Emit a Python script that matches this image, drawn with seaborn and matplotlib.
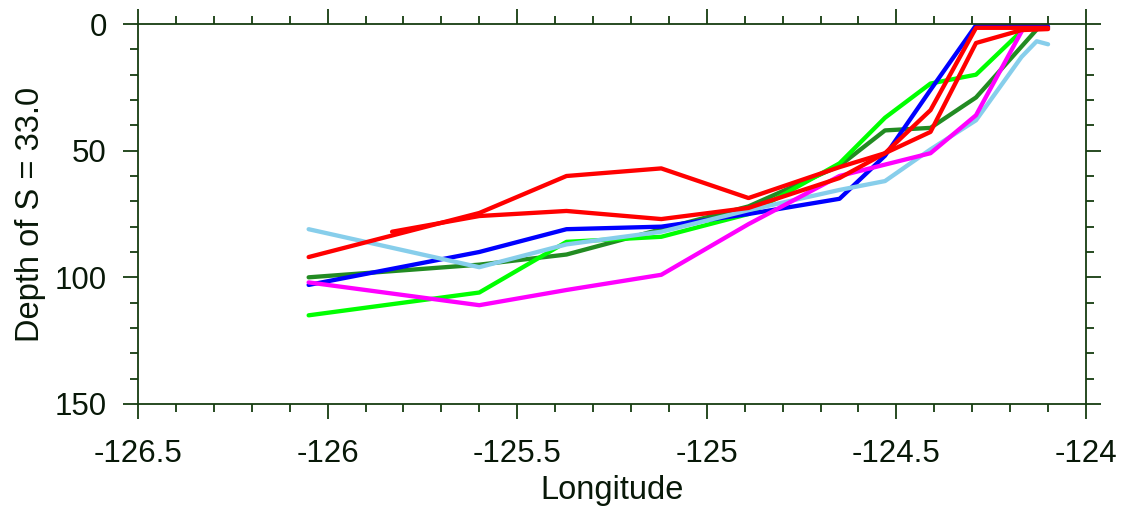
import numpy as np
import pandas as pd
import matplotlib
matplotlib.use("Agg")
import matplotlib.pyplot as plt
from matplotlib.ticker import MultipleLocator
import seaborn as sns

nan = np.nan

# Station longitudes along the section
lon = [-126.05, -125.83, -125.60, -125.37, -125.12, -124.89, -124.65,
       -124.53, -124.41, -124.29, -124.17, -124.13, -124.10]

# Depth (m) of the S = 33.0 isohaline at each station, one list per cruise
depth_blue = [103, nan, 90, 81, 80, 75, 69, 52, 26, 0.5, nan, nan, 1.0]
depth_red_a = [92, nan, 74.6, 60, 57, 68.7, 56.5, 51, 34, 1.5, nan, nan, 1.5]
depth_red_b = [nan, 82, 75.8, 73.8, 77, 72.6, 60.8, 51, 42.6, 7.5, 2.4, nan, 2.0]
depth_lime = [115, nan, 106, 86, 84, 75, 55, 37, 23.5, 20, 2.8, nan, nan]
depth_forest = [100, nan, 95, 91, 81, 72, 56, 42, 41, 29, nan, 2.2, nan]
depth_sky = [81, nan, 96, 87, 82, 73.5, 65.5, 62, 49.5, 38, 13, 6.8, 8]
depth_magenta = [102, nan, 111, 105, 99, 79, 60, 55.5, 51, 36, 3, nan, nan]

series = {
    "forest": (depth_forest, "#228b22"),
    "lime": (depth_lime, "#00ff00"),
    "blue": (depth_blue, "#0000ff"),
    "sky": (depth_sky, "#87ceeb"),
    "magenta": (depth_magenta, "#ff00ff"),
    "red_a": (depth_red_a, "#ff0000"),
    "red_b": (depth_red_b, "#ff0000"),
}

frames = []
for name, (vals, _) in series.items():
    frames.append(pd.DataFrame({"lon": lon, "depth": vals, "cruise": name}))
df = pd.concat(frames, ignore_index=True).dropna()
palette = {name: col for name, (_, col) in series.items()}

sns.set_style("white")
plt.rcParams["font.family"] = ["Liberation Sans", "DejaVu Sans"]

axis_col = "#163d10"
text_col = "#081808"

fig = plt.figure(figsize=(11.33, 5.13), dpi=100)
ax = fig.add_axes([0.1218, 0.2125, 0.8367, 0.7407])

sns.lineplot(data=df, x="lon", y="depth", hue="cruise", palette=palette,
             hue_order=list(series.keys()), estimator=None, sort=False,
             linewidth=3.1, legend=False, ax=ax)

ax.set_xlim(-126.5, -124.0)
ax.set_ylim(150, 0)
ax.xaxis.set_major_locator(MultipleLocator(0.5))
ax.xaxis.set_minor_locator(MultipleLocator(0.1))
ax.yaxis.set_major_locator(MultipleLocator(50))
ax.yaxis.set_minor_locator(MultipleLocator(10))
ax.set_xticks([-126.5, -126, -125.5, -125, -124.5, -124])
ax.set_xticklabels(["-126.5", "-126", "-125.5", "-125", "-124.5", "-124"])
ax.set_yticks([0, 50, 100, 150])
ax.set_yticklabels(["0", "50", "100", "150"])

for sp in ax.spines.values():
    sp.set_visible(True)
    sp.set_color(axis_col)
    sp.set_linewidth(1.3)

ax.tick_params(which="both", direction="out", top=True, right=True,
               bottom=True, left=True, color=axis_col, width=1.3,
               labelcolor=text_col)
ax.tick_params(which="major", length=11, labelsize=22.5, pad=14)
ax.tick_params(axis="y", which="major", pad=11.5)
ax.tick_params(which="minor", length=5.5)

ax.set_xlabel("Longitude", fontsize=23.5, color=text_col)
ax.set_ylabel("Depth of S = 33.0", fontsize=23.5, color=text_col)
ax.xaxis.set_label_coords(0.5, -0.187)
ax.yaxis.set_label_coords(-0.097, 0.5)
ax.grid(False)

fig.savefig("out.png", dpi=100, facecolor="white")
